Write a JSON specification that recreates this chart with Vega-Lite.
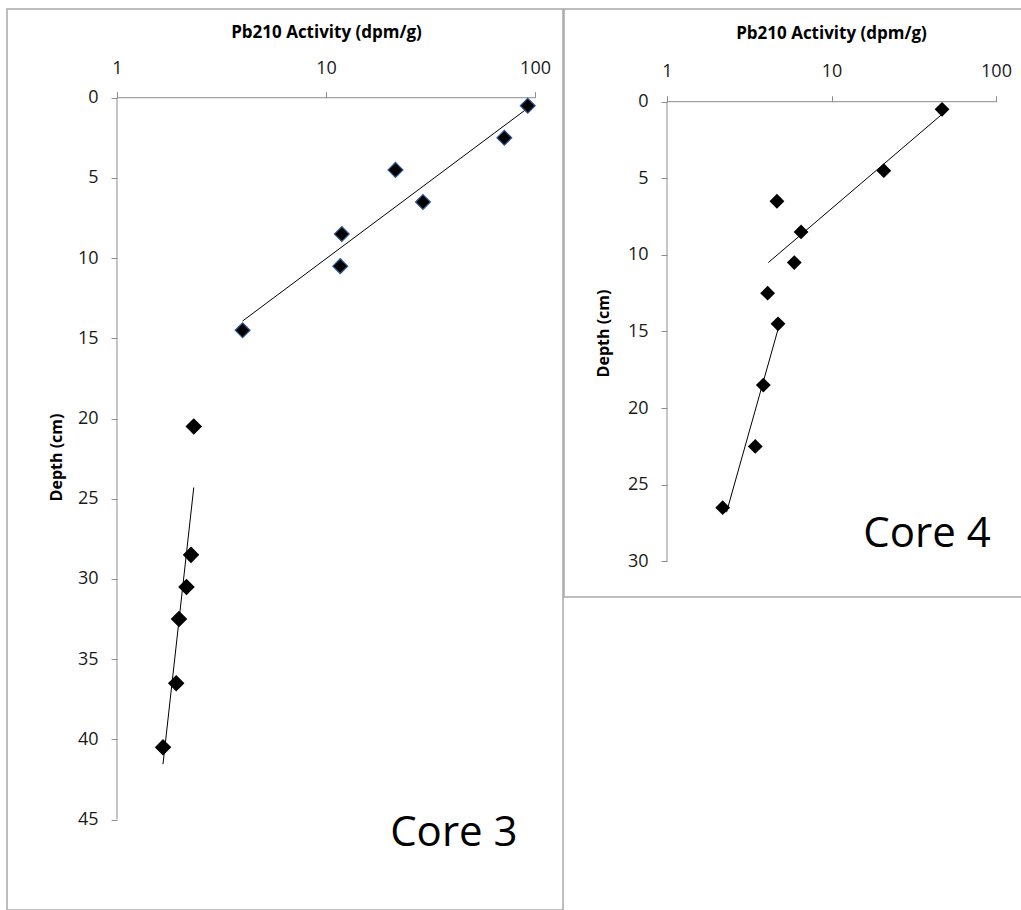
{
  "$schema": "https://vega.github.io/schema/vega-lite/v6.json",
  "padding": {"left": 6, "top": 8, "right": 0, "bottom": 0},
  "spacing": -2,
  "background": "white",
  "config": {
    "view": {"stroke": "#a9a9a9", "strokeWidth": 1.5},
    "font": "Open Sans",
    "axis": {
      "grid": false,
      "domain": false,
      "tickColor": "#8c8c8c",
      "tickSize": 6,
      "labelFont": "Open Sans",
      "labelFontSize": 18,
      "labelColor": "#1a1a1a",
      "titleFont": "Open Sans",
      "titleFontSize": 16,
      "titleFontWeight": "bold",
      "titleColor": "#000000",
      "labelFlush": false,
      "labelOverlap": false
    }
  },
  "datasets": {
    "core3": [
      {"depth": 0.5, "activity": 92.3, "fit": "upper"},
      {"depth": 2.5, "activity": 71.3, "fit": "upper"},
      {"depth": 4.5, "activity": 21.5, "fit": "upper"},
      {"depth": 6.5, "activity": 29.1, "fit": "upper"},
      {"depth": 8.5, "activity": 11.9, "fit": "upper"},
      {"depth": 10.5, "activity": 11.7, "fit": "upper"},
      {"depth": 14.5, "activity": 3.99, "fit": "upper"},
      {"depth": 20.5, "activity": 2.33, "fit": "lower"},
      {"depth": 28.5, "activity": 2.26, "fit": "lower"},
      {"depth": 30.5, "activity": 2.15, "fit": "lower"},
      {"depth": 32.5, "activity": 1.98, "fit": "lower"},
      {"depth": 36.5, "activity": 1.92, "fit": "lower"},
      {"depth": 40.5, "activity": 1.66, "fit": "lower"}
    ],
    "core3trend": [
      {"depth": 13.92, "activity": 3.99, "fit": "upper"},
      {"depth": 0.65, "activity": 92.3, "fit": "upper"},
      {"depth": 24.3, "activity": 2.33, "fit": "lower"},
      {"depth": 41.55, "activity": 1.66, "fit": "lower"}
    ],
    "core4": [
      {"depth": 0.5, "activity": 47.0, "fit": "upper"},
      {"depth": 4.5, "activity": 20.8, "fit": "upper"},
      {"depth": 6.5, "activity": 4.66, "fit": "upper"},
      {"depth": 8.5, "activity": 6.53, "fit": "upper"},
      {"depth": 10.5, "activity": 5.94, "fit": "upper"},
      {"depth": 12.5, "activity": 4.09, "fit": "lower"},
      {"depth": 14.5, "activity": 4.73, "fit": "lower"},
      {"depth": 18.5, "activity": 3.85, "fit": "lower"},
      {"depth": 22.5, "activity": 3.44, "fit": "lower"},
      {"depth": 26.5, "activity": 2.18, "fit": "lower"}
    ],
    "core4trend": [
      {"depth": 10.5, "activity": 4.13, "fit": "upper"},
      {"depth": 0.82, "activity": 47.0, "fit": "upper"},
      {"depth": 14.86, "activity": 4.73, "fit": "lower"},
      {"depth": 26.8, "activity": 2.3, "fit": "lower"}
    ],
    "axes3": [
      {"x": 1, "x2": 100, "y": 0, "y2": 0},
      {"x": 1, "x2": 1, "y": 0, "y2": 45}
    ],
    "axes4": [
      {"x": 1, "x2": 100, "y": 0, "y2": 0},
      {"x": 1, "x2": 1, "y": 0, "y2": 30}
    ],
    "label3": [{"label": "Core 3", "x": 40.9, "y": 46.65}],
    "label4": [{"label": "Core 4", "x": 38.1, "y": 29.07}]
  },
  "hconcat": [
    {
      "width": 556,
      "height": 901,
      "layer": [
        {
          "data": {"name": "axes3"},
          "mark": {"type": "rule", "color": "#8c8c8c", "strokeWidth": 1},
          "encoding": {
            "x": {
              "field": "x", "type": "quantitative",
              "scale": {"type": "log", "domain": [0.2977, 136.1], "nice": false},
              "axis": {
                "orient": "top", "offset": -88.7, "values": [1, 10, 100], "format": "d",
                "title": "Pb210 Activity (dpm/g)", "titleX": 319, "titleY": -65, "titleFontSize": 17,
                "titleBaseline": "middle", "titleAlign": "center", "labelPadding": 14
              }
            },
            "x2": {"field": "x2"},
            "y": {
              "field": "y", "type": "quantitative",
              "scale": {"domain": [-5.53, 50.64], "reverse": true, "nice": false, "zero": false},
              "axis": {
                "orient": "left", "offset": -110, "values": [0, 5, 10, 15, 20, 25, 30, 35, 40, 45],
                "title": "Depth (cm)", "titleAngle": -90, "titleX": -61, "titleY": 448,
                "titleBaseline": "middle", "titleAlign": "center", "labelPadding": 13
              }
            },
            "y2": {"field": "y2"}
          }
        },
        {
          "data": {"name": "core3trend"},
          "mark": {"type": "line", "color": "#000000", "strokeWidth": 1},
          "encoding": {
            "x": {"field": "activity", "type": "quantitative"},
            "y": {"field": "depth", "type": "quantitative"},
            "detail": {"field": "fit"}
          }
        },
        {
          "data": {"name": "core3"},
          "mark": {"type": "point", "shape": "diamond", "filled": true, "size": 220, "fill": "#000000", "opacity": 1, "strokeWidth": 1.2},
          "encoding": {
            "x": {"field": "activity", "type": "quantitative"},
            "y": {"field": "depth", "type": "quantitative"},
            "stroke": {"field": "fit", "type": "nominal", "scale": {"domain": ["upper", "lower"], "range": ["#2f5597", "#000000"]}, "legend": null}
          }
        },
        {
          "data": {"name": "label3"},
          "mark": {"type": "text", "fontSize": 42, "font": "Open Sans", "align": "center", "baseline": "alphabetic", "color": "#000000"},
          "encoding": {
            "x": {"field": "x", "type": "quantitative"},
            "y": {"field": "y", "type": "quantitative"},
            "text": {"field": "label"}
          }
        }
      ]
    },
    {
      "width": 458,
      "height": 588,
      "layer": [
        {
          "data": {"name": "axes4"},
          "mark": {"type": "rule", "color": "#8c8c8c", "strokeWidth": 1},
          "encoding": {
            "x": {
              "field": "x", "type": "quantitative",
              "scale": {"type": "log", "domain": [0.2365, 143.9], "nice": false},
              "axis": {
                "orient": "top", "offset": -92.7, "values": [1, 10, 100], "format": "d",
                "title": "Pb210 Activity (dpm/g)", "titleX": 267, "titleY": -68, "titleFontSize": 17,
                "titleBaseline": "middle", "titleAlign": "center", "labelPadding": 15
              }
            },
            "x2": {"field": "x2"},
            "y": {
              "field": "y", "type": "quantitative",
              "scale": {"domain": [-6.05, 32.33], "reverse": true, "nice": false, "zero": false},
              "axis": {
                "orient": "left", "offset": -103, "values": [0, 5, 10, 15, 20, 25, 30],
                "title": "Depth (cm)", "titleAngle": -90, "titleX": -64, "titleY": 324,
                "titleBaseline": "middle", "titleAlign": "center", "labelPadding": 13
              }
            },
            "y2": {"field": "y2"}
          }
        },
        {
          "data": {"name": "core4trend"},
          "mark": {"type": "line", "color": "#000000", "strokeWidth": 1},
          "encoding": {
            "x": {"field": "activity", "type": "quantitative"},
            "y": {"field": "depth", "type": "quantitative"},
            "detail": {"field": "fit"}
          }
        },
        {
          "data": {"name": "core4"},
          "mark": {"type": "point", "shape": "diamond", "filled": true, "size": 220, "color": "#000000", "opacity": 1},
          "encoding": {
            "x": {"field": "activity", "type": "quantitative"},
            "y": {"field": "depth", "type": "quantitative"}
          }
        },
        {
          "data": {"name": "label4"},
          "mark": {"type": "text", "fontSize": 42, "font": "Open Sans", "align": "center", "baseline": "alphabetic", "color": "#000000"},
          "encoding": {
            "x": {"field": "x", "type": "quantitative"},
            "y": {"field": "y", "type": "quantitative"},
            "text": {"field": "label"}
          }
        }
      ]
    }
  ]
}
